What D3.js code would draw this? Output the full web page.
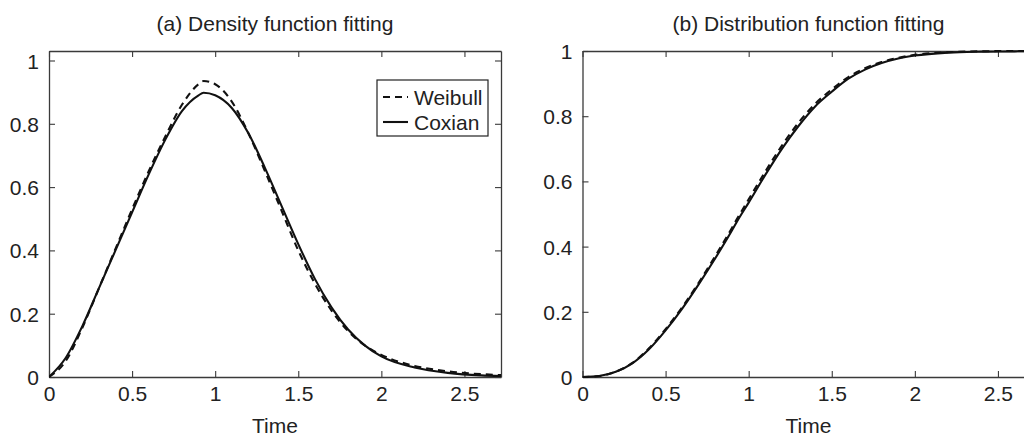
<!DOCTYPE html>
<html><head><meta charset="utf-8">
<script src="https://cdn.jsdelivr.net/npm/d3@7"></script>
<style>
html,body{margin:0;padding:0;background:#fff;}
svg{display:block;}
text{font-family:"Liberation Sans",Arial,sans-serif;fill:#222;}
</style></head>
<body>
<svg id="chart" width="1024" height="436"></svg>
<script>
// ---- data ----
const timeGrid = [0,0.1,0.2,0.3,0.4,0.5,0.6,0.7,0.8,0.9,0.93,1.0,1.1,1.2,1.3,1.4,1.5,1.6,1.7,1.8,1.9,2.0,2.2,2.4,2.6,2.72];
const densityWeibull = [0,0.05,0.155,0.28,0.405,0.53,0.65,0.76,0.86,0.925,0.935,0.925,0.87,0.77,0.65,0.525,0.40,0.295,0.21,0.145,0.10,0.07,0.035,0.018,0.009,0.006];
const densityCoxian  = [0,0.06,0.16,0.28,0.40,0.52,0.64,0.75,0.84,0.89,0.898,0.89,0.85,0.77,0.66,0.54,0.42,0.31,0.22,0.15,0.10,0.065,0.03,0.013,0.005,0.003];
const cdfWeibull = [0,0.003,0.016,0.043,0.088,0.147,0.214,0.29,0.372,0.458,0.485,0.545,0.63,0.71,0.78,0.838,0.882,0.92,0.947,0.966,0.979,0.988,0.996,0.999,1.0,1.0];
const cdfCoxian  = [0,0.003,0.016,0.042,0.085,0.143,0.21,0.285,0.365,0.45,0.477,0.535,0.62,0.70,0.77,0.83,0.875,0.915,0.943,0.963,0.977,0.986,0.995,0.998,0.999,1.0];
const xTicks = [0,0.5,1,1.5,2,2.5];
const xTickLabels = ["0","0.5","1","1.5","2","2.5"];
const yTicks = [0,0.2,0.4,0.6,0.8,1];
const yTickLabels = ["0","0.2","0.4","0.6","0.8","1"];
const panelTitles = ["(a) Density function fitting","(b) Distribution function fitting"];
const xLabel = "Time";
const seriesNames = ["Weibull","Coxian"];
const xMax = 2.72;
const yMaxA = 1.03, yMaxB = 1.0;

// ---- drawing ----
const svg = d3.select("#chart");
const FS = 21;
const axisColor = "#3a3a3a";

function panel(cfg){
  const {left, right, top, bottom, yMax, title, series} = cfg;
  const x = d3.scaleLinear().domain([0,xMax]).range([left,right]);
  const y = d3.scaleLinear().domain([0,yMax]).range([bottom,top]);
  const g = svg.append("g");

  const tick = 6;
  const ax = [
    {a:d3.axisBottom(x).tickValues(xTicks).tickFormat((d,i)=>xTickLabels[i]), tr:`translate(0,${bottom})`, pos:"b"},
    {a:d3.axisTop(x).tickValues(xTicks).tickFormat(""), tr:`translate(0,${top})`, pos:"t"},
    {a:d3.axisLeft(y).tickValues(yTicks).tickFormat((d,i)=>yTickLabels[i]), tr:`translate(${left},0)`, pos:"l"},
    {a:d3.axisRight(y).tickValues(yTicks).tickFormat(""), tr:`translate(${right},0)`, pos:"r"}
  ];
  ax.forEach(o=>{
    o.a.tickSizeInner(-tick).tickSizeOuter(0).tickPadding(tick+6);
    const ag = g.append("g").attr("transform",o.tr).call(o.a);
    ag.select(".domain").attr("stroke",axisColor).attr("stroke-width",1.3);
    ag.selectAll(".tick line").attr("stroke",axisColor).attr("stroke-width",1.1);
    ag.selectAll(".tick text").attr("font-size",FS).attr("fill","#222")
      .attr("font-family","'Liberation Sans',Arial,sans-serif");
    if(o.pos==="b") ag.selectAll(".tick text").attr("dy","0.85em").attr("y",6);
    if(o.pos==="l") ag.selectAll(".tick text").attr("x",-10).attr("dy","0.36em");
  });

  const clipId = "clip"+Math.round(left);
  svg.append("clipPath").attr("id",clipId).append("rect")
    .attr("x",left).attr("y",top-20).attr("width",right-left).attr("height",bottom-top+22);
  const line = d3.line().x(d=>x(d[0])).y(d=>y(d[1])).curve(d3.curveMonotoneX);
  series.forEach(s=>{
    g.append("path")
      .datum(timeGrid.map((t,i)=>[t,s.values[i]]))
      .attr("clip-path",`url(#${clipId})`)
      .attr("d",line).attr("fill","none").attr("stroke","#111")
      .attr("stroke-width",2.1)
      .attr("stroke-dasharray",s.dash?"7,5":null);
  });

  g.append("text").attr("x",(left+right)/2).attr("y",31).attr("text-anchor","middle")
    .attr("font-size",FS).text(title);
  g.append("text").attr("x",(left+right)/2).attr("y",433).attr("text-anchor","middle")
    .attr("font-size",FS).text(xLabel);
  return {x,y,g};
}

const pa = panel({left:49,right:501,top:51,bottom:377,yMax:yMaxA,title:panelTitles[0],
  series:[{values:densityWeibull,dash:true},{values:densityCoxian,dash:false}]});
panel({left:582.5,right:1034.5,top:51,bottom:377,yMax:yMaxB,title:panelTitles[1],
  series:[{values:cdfWeibull,dash:true},{values:cdfCoxian,dash:false}]});

// legend in panel (a)
const lg = pa.g.append("g");
lg.append("rect").attr("x",377).attr("y",80).attr("width",111).attr("height",56)
  .attr("fill","#fff").attr("stroke","#222").attr("stroke-width",1.2);
seriesNames.forEach((name,i)=>{
  const yy = 97 + i*25;
  lg.append("line").attr("x1",383).attr("x2",408).attr("y1",yy).attr("y2",yy)
    .attr("stroke","#111").attr("stroke-width",2.1)
    .attr("stroke-dasharray",i===0?"7,5":null);
  lg.append("text").attr("x",414).attr("y",yy+7.5).attr("font-size",FS).text(name);
});
</script>
</body></html>
